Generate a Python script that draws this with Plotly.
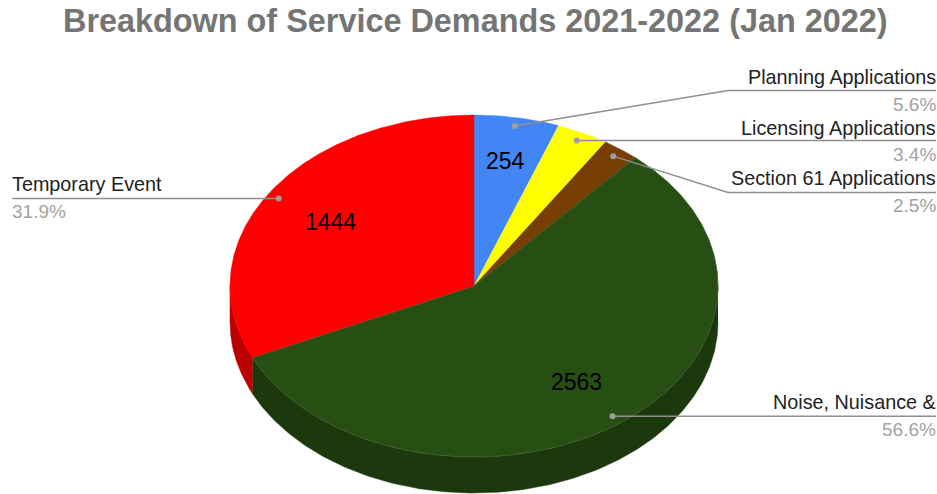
import numpy as np
import plotly.graph_objects as go

# Service demand counts, clockwise from twelve o'clock
categories = ["Planning Applications", "Licensing Applications", "Section 61 Applications",
              "Noise, Nuisance &", "Temporary Event"]
counts = [254, 154, 113, 2563, 1444]
percent_labels = ["5.6%", "3.4%", "2.5%", "56.6%", "31.9%"]
count_labels = ["254", "", "", "2563", "1444"]

top_colors = ["#4285f4", "#ffff00", "#783f04", "#274e13", "#ff0000"]
side_colors = ["#3061b2", "#baba00", "#572e03", "#1c390e", "#ba0000"]

# Pie geometry, in page pixels
CX, CY, RX, RY, DEPTH = 474.0, 286.0, 244.0, 171.0, 36.0
DOT_R = 0.95
LABEL_R = [0.74, 0.7, 0.7, 0.7, 0.7]
RIGHT_EDGE, LEFT_EDGE, ELBOW_X = 936.0, 12.0, 728.0
LEADER_Y = [90.5, None, 192.5, None, None]       # elbow height; None keeps the line level
NAME_Y = [77, 128, 178, 402, 184]
PCT_Y = [104, 154, 205, 429, 211]

TITLE = "Breakdown of Service Demands 2021-2022 (Jan 2022)"


def rim(theta):
    return CX + RX * np.sin(theta), CY - RY * np.cos(theta)


fractions = np.array(counts, dtype=float) / sum(counts)
edges = np.concatenate([[0.0], np.cumsum(fractions)]) * 2 * np.pi

fig = go.Figure()


def polygon(x, y, fill, line=None):
    fig.add_trace(go.Scatter(
        x=list(x), y=list(y), mode="lines", fill="toself", fillcolor=fill,
        line=dict(color=line or fill, width=0.5), hoverinfo="skip", showlegend=False,
    ))


# Visible wall of the disc: only the front half of the rim
for start, end, color in zip(edges[:-1], edges[1:], side_colors):
    a, b = max(start, np.pi / 2), min(end, 3 * np.pi / 2)
    if a < b:
        t = np.linspace(a, b, 200)
        x, y = rim(t)
        polygon(np.r_[x, x[::-1]], np.r_[y, y[::-1] + DEPTH], color)

# Top face wedges
for start, end, color in zip(edges[:-1], edges[1:], top_colors):
    t = np.linspace(start, end, 300)
    x, y = rim(t)
    polygon(np.r_[CX, x, CX], np.r_[CY, y, CY], color)

# Faint highlight around the green wedge
t = np.linspace(edges[3], edges[4], 300)
x, y = rim(t)
fig.add_trace(go.Scatter(x=np.r_[CX, x, CX], y=np.r_[CY, y, CY], mode="lines",
                         line=dict(color="#47653a", width=0.6),
                         hoverinfo="skip", showlegend=False))

# Leader lines with their anchor dots, and the category / percent text
mids = (edges[:-1] + edges[1:]) / 2
annotations = []
for i, mid in enumerate(mids):
    dx, dy = rim(mid)
    dx, dy = CX + (dx - CX) * DOT_R, CY + (dy - CY) * DOT_R
    on_left = dx < CX
    end_x = LEFT_EDGE if on_left else RIGHT_EDGE
    if LEADER_Y[i] is None:
        lx, ly = [dx, end_x], [dy, dy]
    else:
        lx, ly = [dx, ELBOW_X, end_x], [dy, LEADER_Y[i], LEADER_Y[i]]
    fig.add_trace(go.Scatter(x=lx, y=ly, mode="lines", line=dict(color="#8f8f8f", width=1.5),
                             hoverinfo="skip", showlegend=False))
    fig.add_trace(go.Scatter(x=[dx], y=[dy], mode="markers",
                             marker=dict(color="#9e9e9e", size=6),
                             hoverinfo="skip", showlegend=False))
    anchor = "left" if on_left else "right"
    shift = -2 if on_left else 2
    annotations.append(dict(x=end_x, y=NAME_Y[i], text=categories[i], xanchor=anchor, yanchor="middle",
                            xshift=shift, showarrow=False, xref="x", yref="y",
                            font=dict(family="Liberation Sans", size=19.8, color="#222222")))
    annotations.append(dict(x=end_x, y=PCT_Y[i], text=percent_labels[i], xanchor=anchor, yanchor="middle",
                            xshift=shift, showarrow=False, xref="x", yref="y",
                            font=dict(family="Liberation Sans", size=19, color="#a3a3a3")))
    if count_labels[i]:
        px, py = rim(mid)
        annotations.append(dict(x=CX + (px - CX) * LABEL_R[i], y=CY + (py - CY) * LABEL_R[i],
                                text=count_labels[i], xanchor="center", yanchor="middle",
                                showarrow=False, xref="x", yref="y",
                                font=dict(family="Liberation Sans", size=23, color="#000000")))

annotations.append(dict(x=475, y=21, text=f"<b>{TITLE}</b>", xanchor="center", yanchor="middle",
                        showarrow=False, xref="x", yref="y",
                        font=dict(family="Liberation Sans", size=32.4, color="#757575")))

fig.update_layout(
    width=937, height=494, autosize=False,
    margin=dict(l=0, r=0, t=0, b=0),
    paper_bgcolor="#ffffff", plot_bgcolor="#ffffff",
    xaxis=dict(range=[0, 937], visible=False, fixedrange=True),
    yaxis=dict(range=[494, 0], visible=False, fixedrange=True),
    annotations=annotations,
    showlegend=False,
)

fig.write_html("out.html", config=dict(displayModeBar=False))
